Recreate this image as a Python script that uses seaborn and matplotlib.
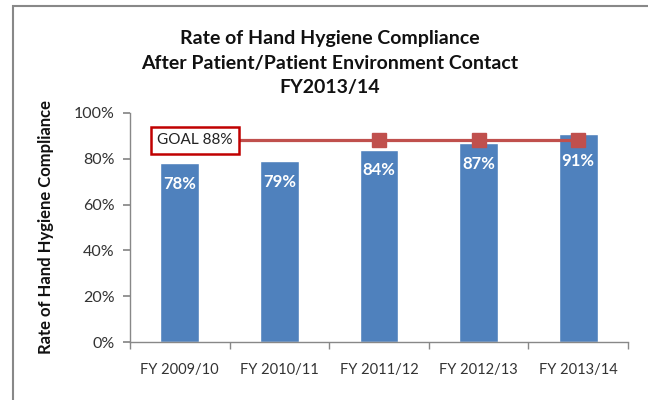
import matplotlib
matplotlib.use("Agg")
import matplotlib.pyplot as plt
import seaborn as sns
import pandas as pd
from matplotlib.patches import Rectangle
from matplotlib.ticker import PercentFormatter, FixedLocator

categories = ["FY 2009/10", "FY 2010/11", "FY 2011/12", "FY 2012/13", "FY 2013/14"]
compliance = [78, 79, 84, 87, 91]
goal = 88
goal_marker_idx = [2, 3, 4]

sns.set_theme(style="white")
plt.rcParams['font.family'] = ['Lato', 'DejaVu Sans']

fig = plt.figure(figsize=(6.48, 4.0), dpi=100)
ax = fig.add_axes([130/648, 1-342/400, 498/648, 229/400])

df = pd.DataFrame({"cat": categories, "val": compliance})
sns.barplot(data=df, x="cat", y="val", color="#4F81BD", width=0.39, saturation=1, ax=ax)

# goal line
ax.plot([0, 4], [goal, goal], color="#C0504D", lw=2.3, zorder=3)
ax.plot(goal_marker_idx, [goal]*len(goal_marker_idx), ls="none", marker="s",
        ms=9.5, color="#C0504D", zorder=4)
ax.text(0.15, goal, "GOAL 88%", ha="center", va="center", fontsize=11, color="#222222",
        zorder=5, bbox=dict(boxstyle="square,pad=0.4", fc="white", ec="#C00000", lw=1.8))

for i, v in enumerate(compliance):
    off = -20 if i == len(compliance) - 1 else -15
    ax.annotate(f"{v}%", (i, v), xytext=(0, off), textcoords="offset points",
                ha="center", va="center", color="white", fontsize=12, fontweight="bold", zorder=5)

ax.set_ylim(0, 100)
ax.set_xlim(-0.5, 4.5)
ax.yaxis.set_major_formatter(PercentFormatter(decimals=0))
ax.set_yticks([0, 20, 40, 60, 80, 100])
ax.tick_params(axis="y", which="major", left=True, length=5, color="#888888",
               labelsize=11.5, labelcolor="#333333", pad=6)
ax.tick_params(axis="x", which="major", bottom=False, labelsize=10.5, labelcolor="#333333", pad=9)
ax.xaxis.set_minor_locator(FixedLocator([-0.5, 0.5, 1.5, 2.5, 3.5, 4.5]))
ax.tick_params(axis="x", which="minor", bottom=True, length=5, color="#888888")
ax.set_xlabel("")
ax.set_ylabel("Rate of Hand Hygiene Compliance", fontsize=12, fontweight="bold",
              color="#111111", labelpad=14)
for s in ["top", "right"]:
    ax.spines[s].set_visible(False)
for s in ["left", "bottom"]:
    ax.spines[s].set_color("#888888")
    ax.spines[s].set_linewidth(1.0)

fig.text(330/648, 1-63/400,
         "Rate of Hand Hygiene Compliance\nAfter Patient/Patient Environment Contact\nFY2013/14",
         ha="center", va="center", fontsize=14, fontweight="bold", color="#111111",
         linespacing=1.55)

border = Rectangle((13/648, -0.1), 1.0, (400-6)/400 + 0.1, transform=fig.transFigure,
                   fill=False, ec="#888888", lw=1.5, clip_on=False)
fig.patches.append(border)

fig.savefig("out.png", dpi=100)
